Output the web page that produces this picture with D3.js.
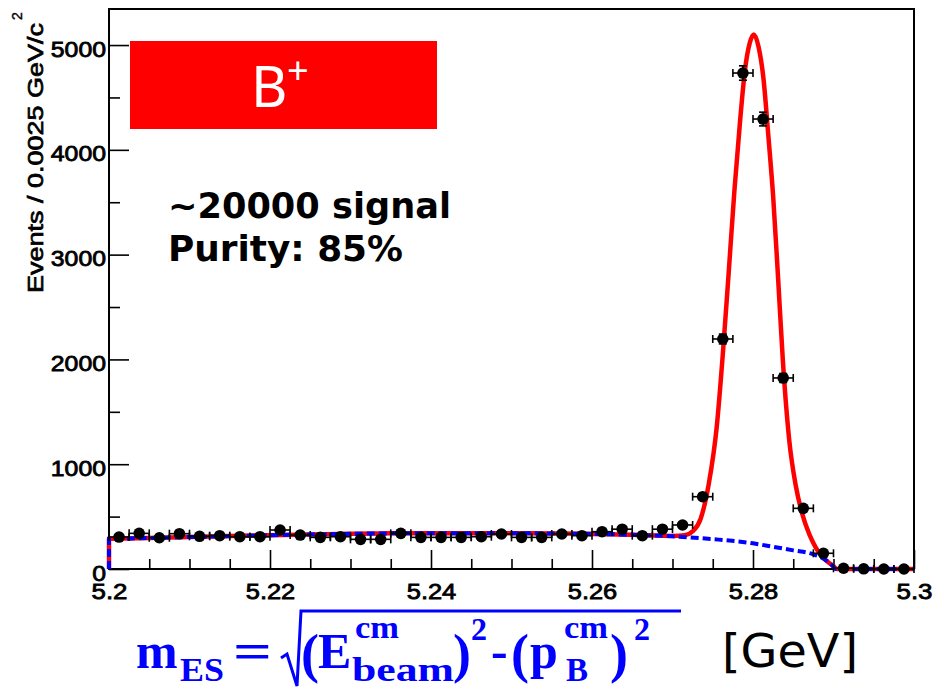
<!DOCTYPE html>
<html>
<head>
<meta charset="utf-8">
<script src="https://cdn.jsdelivr.net/npm/d3@7"></script>
<style>
html, body { margin: 0; padding: 0; background: #fff; }
svg { display: block; }
</style>
</head>
<body>
<svg id="chart" width="946" height="689"></svg>
<script>
// m_ES bins (0.0025 GeV wide), centres and event counts
const binCenters = [5.20125, 5.20375, 5.20625, 5.20875, 5.21125, 5.21375, 5.21625, 5.21875,
    5.22125, 5.22375, 5.22625, 5.22875, 5.23125, 5.23375, 5.23625, 5.23875,
    5.24125, 5.24375, 5.24625, 5.24875, 5.25125, 5.25375, 5.25625, 5.25875,
    5.26125, 5.26375, 5.26625, 5.26875, 5.27125, 5.27375, 5.27625, 5.27875,
    5.28125, 5.28375, 5.28625, 5.28875, 5.29125, 5.29375, 5.29625, 5.29875];
const counts = [305, 340, 298, 337, 312, 318, 308, 308,
    372, 324, 302, 308, 283, 283, 340, 302,
    302, 302, 308, 334, 302, 302, 334, 318,
    356, 380, 318, 380, 420, 690, 2195, 4733,
    4294, 1823, 579, 150, 7, 2, 0, 0];
const binHalfWidth = 0.00125;

// total fit (red, solid)
const fitX = [5.2, 5.205, 5.21, 5.215, 5.22, 5.225, 5.23, 5.235, 5.24, 5.245, 5.25, 5.255,
    5.26, 5.265, 5.27, 5.2715, 5.2725, 5.2735, 5.2745, 5.2755, 5.2763, 5.277, 5.2777,
    5.2784, 5.279, 5.2796, 5.2801, 5.2807, 5.2813, 5.2819, 5.2825, 5.2831, 5.2837,
    5.2845, 5.2853, 5.2861, 5.287, 5.2878, 5.2887, 5.2895, 5.29, 5.2904, 5.295, 5.3];
const fitY = [288, 296, 305, 314, 322, 330, 336, 340, 342, 342, 341, 339,
    335, 326, 315, 322, 360, 480, 810, 1360, 2100, 2850, 3620,
    4280, 4760, 5020, 5100, 4980, 4680, 4140, 3560, 2800, 2000,
    1230, 800, 530, 330, 205, 110, 55, 28, 0, 0, 0];

// background component (blue, dashed)
const bkgX = [5.2, 5.205, 5.21, 5.215, 5.22, 5.225, 5.23, 5.235, 5.24, 5.245, 5.25, 5.255,
    5.26, 5.265, 5.27, 5.275, 5.28, 5.2825, 5.285, 5.2875, 5.289, 5.2897, 5.2903, 5.295, 5.3];
const bkgY = [288, 296, 305, 314, 322, 330, 336, 340, 342, 342, 341, 339,
    335, 326, 312, 285, 245, 212, 178, 140, 88, 45, 0, 0, 0];

const xTicks = [5.2, 5.22, 5.24, 5.26, 5.28, 5.3];
const xLabels = ['5.2', '5.22', '5.24', '5.26', '5.28', '5.3'];
const xMinor = [5.205, 5.21, 5.215, 5.225, 5.23, 5.235, 5.245, 5.25, 5.255, 5.265, 5.27, 5.275, 5.285, 5.29, 5.295];
const yTicks = [0, 1000, 2000, 3000, 4000, 5000];
const yMinor = [500, 1500, 2500, 3500, 4500];

const svg = d3.select('#chart');

const x = d3.scaleLinear().domain([5.2, 5.3]).range([109, 914]);
const y = d3.scaleLinear().domain([0, 5344]).range([569, 9]);

const sansFont = '"Liberation Sans", Arial, Helvetica, sans-serif';

// frame
svg.append('rect')
    .attr('x', 109).attr('y', 9)
    .attr('width', 914 - 109).attr('height', 569 - 9)
    .attr('fill', 'none').attr('stroke', '#000').attr('stroke-width', 2);

// y axis (ticks point inwards)
const yAxis = svg.append('g').attr('transform', 'translate(109,0)')
    .call(d3.axisLeft(y).tickValues(yTicks).tickSize(-20).tickSizeOuter(0).tickPadding(3).tickFormat(d3.format('d')));
svg.append('g').attr('transform', 'translate(109,0)')
    .call(d3.axisLeft(y).tickValues(yMinor).tickSize(-11).tickSizeOuter(0).tickFormat(''));

// x axis
const xAxis = svg.append('g').attr('transform', 'translate(0,569)')
    .call(d3.axisBottom(x).tickValues(xTicks).tickSize(-19).tickSizeOuter(0).tickPadding(14)
        .tickFormat((d, i) => xLabels[i]));
svg.append('g').attr('transform', 'translate(0,569)')
    .call(d3.axisBottom(x).tickValues(xMinor).tickSize(-10).tickSizeOuter(0).tickFormat(''));

svg.selectAll('.domain').remove();
svg.selectAll('.tick line').attr('stroke', '#000').attr('stroke-width', 1.6);

yAxis.selectAll('.tick text')
    .attr('font-family', sansFont).attr('font-size', 22).attr('fill', '#000')
    .attr('stroke', '#000').attr('stroke-width', 0.8)
    .attr('dy', '0.5em')
    .attr('textLength', function() { return this.textContent.length * 13.8; })
    .attr('lengthAdjust', 'spacingAndGlyphs');

xAxis.selectAll('.tick text')
    .attr('font-family', sansFont).attr('font-size', 22).attr('fill', '#000')
    .attr('stroke', '#000').attr('stroke-width', 0.8)
    .attr('textLength', function() {
        const s = this.textContent;
        return (s.length - 1) * 13.5 + 9;
    })
    .attr('lengthAdjust', 'spacingAndGlyphs');

// y axis title
svg.append('text')
    .attr('transform', 'translate(43,293) rotate(-90)')
    .attr('font-family', sansFont).attr('font-size', 22).attr('fill', '#000')
    .attr('stroke', '#000').attr('stroke-width', 0.7)
    .attr('textLength', 270).attr('lengthAdjust', 'spacingAndGlyphs')
    .text('Events / 0.0025 GeV/c');
svg.append('text')
    .attr('transform', 'translate(22,20) rotate(-90)')
    .attr('font-family', sansFont).attr('font-size', 14).attr('fill', '#000')
    .attr('stroke', '#000').attr('stroke-width', 0.4)
    .text('2');

// fit curves
const line = d3.line()
    .x(d => x(d[0]))
    .y(d => y(d[1]))
    .curve(d3.curveMonotoneX);

function curvePath(xs, ys) {
    const pts = xs.map((v, i) => [v, ys[i]]);
    // vertical edge at the lower boundary, then the smooth curve
    const p = line(pts);
    return `M${x(xs[0])},${y(0)}L` + p.slice(1);
}

svg.append('path')
    .attr('d', curvePath(fitX, fitY))
    .attr('fill', 'none').attr('stroke', '#ff0000').attr('stroke-width', 4.5)
    .attr('stroke-linejoin', 'round');

svg.append('path')
    .attr('d', curvePath(bkgX, bkgY))
    .attr('fill', 'none').attr('stroke', '#0000ff').attr('stroke-width', 4)
    .attr('stroke-dasharray', '8,4');

// data points with error bars
const pts = binCenters.map((c, i) => ({ c: c, n: counts[i] }));
const g = svg.append('g');
const capH = 4;
pts.forEach(d => {
    const cx = x(d.c), cy = y(d.n);
    const x0 = x(d.c - binHalfWidth), x1 = x(d.c + binHalfWidth);
    const err = Math.sqrt(d.n);
    const y0 = y(d.n - err), y1 = y(d.n + err);
    const grp = g.append('g').attr('stroke', '#000').attr('stroke-width', 1.6);
    grp.append('line').attr('x1', x0).attr('x2', x1).attr('y1', cy).attr('y2', cy);
    grp.append('line').attr('x1', x0).attr('x2', x0).attr('y1', cy - capH).attr('y2', cy + capH);
    grp.append('line').attr('x1', x1).attr('x2', x1).attr('y1', cy - capH).attr('y2', cy + capH);
    grp.append('line').attr('x1', cx).attr('x2', cx).attr('y1', y0).attr('y2', y1);
    grp.append('line').attr('x1', cx - capH).attr('x2', cx + capH).attr('y1', y0).attr('y2', y0);
    grp.append('line').attr('x1', cx - capH).attr('x2', cx + capH).attr('y1', y1).attr('y2', y1);
    g.append('circle').attr('cx', cx).attr('cy', cy).attr('r', 5.8).attr('fill', '#000');
});

// B+ box
svg.append('rect')
    .attr('x', 130).attr('y', 41).attr('width', 307).attr('height', 88)
    .attr('fill', '#ff0000');
svg.append('text')
    .attr('x', 251).attr('y', 107)
    .attr('font-family', '"Noto Sans", "Open Sans", sans-serif').attr('font-size', 56)
    .attr('fill', '#fff').text('B');
svg.append('text')
    .attr('x', 287).attr('y', 84)
    .attr('font-family', '"Noto Sans", "Open Sans", sans-serif').attr('font-size', 38)
    .attr('fill', '#fff').text('+');

// annotation
const boldFont = '"DejaVu Sans", Verdana, sans-serif';
svg.append('text')
    .attr('x', 168).attr('y', 218)
    .attr('font-family', boldFont).attr('font-weight', 'bold').attr('font-size', 35)
    .attr('textLength', 283).attr('lengthAdjust', 'spacingAndGlyphs')
    .text('~20000 signal');
svg.append('text')
    .attr('x', 168).attr('y', 261)
    .attr('font-family', boldFont).attr('font-weight', 'bold').attr('font-size', 35)
    .attr('textLength', 235).attr('lengthAdjust', 'spacingAndGlyphs')
    .text('Purity: 85%');

// m_ES formula
const serif = '"Liberation Serif", "Times New Roman", serif';
const blue = '#0000ff';
const formula = [
    { t: 'm', x: 136, y: 668, s: 50 },
    { t: 'ES', x: 180, y: 681, s: 33, w: 44 },
    { t: '=', x: 233, y: 668, s: 50, w: 39 },
    { t: '(', x: 301, y: 672, s: 54 },
    { t: 'E', x: 318, y: 668, s: 50 },
    { t: 'cm', x: 355, y: 638, s: 32, w: 44 },
    { t: 'beam', x: 352, y: 681, s: 33, w: 102 },
    { t: ')', x: 453, y: 672, s: 54 },
    { t: '2', x: 471, y: 640, s: 32 },
    { t: '-', x: 491, y: 668, s: 50 },
    { t: '(', x: 511, y: 672, s: 54 },
    { t: 'p', x: 530, y: 668, s: 50 },
    { t: 'cm', x: 564, y: 638, s: 32, w: 44 },
    { t: 'B', x: 566, y: 681, s: 33 },
    { t: ')', x: 610, y: 672, s: 54 },
    { t: '2', x: 634, y: 640, s: 32 }
];
svg.append('g').selectAll('text').data(formula).join('text')
    .attr('x', d => d.x).attr('y', d => d.y)
    .attr('font-family', serif).attr('font-weight', 'bold')
    .attr('font-size', d => d.s).attr('fill', blue)
    .attr('textLength', d => d.w || null)
    .attr('lengthAdjust', d => d.w ? 'spacingAndGlyphs' : null)
    .text(d => d.t);

// radical sign
svg.append('path')
    .attr('d', 'M281,658 L287,654 L297,686 L301,611 L681,611')
    .attr('fill', 'none').attr('stroke', blue).attr('stroke-width', 3);

svg.append('text')
    .attr('x', 722).attr('y', 667)
    .attr('font-family', boldFont).attr('font-size', 46).attr('fill', '#000')
    .attr('textLength', 136).attr('lengthAdjust', 'spacingAndGlyphs')
    .text('[GeV]');
</script>
</body>
</html>
